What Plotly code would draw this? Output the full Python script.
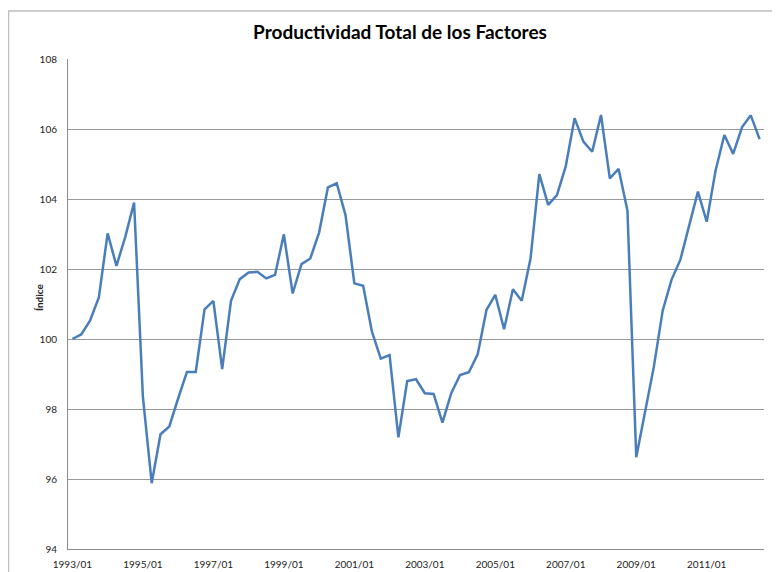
import plotly.graph_objects as go

# Productividad Total de los Factores, trimestral 1993/01 - 2012/03
YEARS = list(range(1993, 2013))
QUARTERS = ["01", "02", "03", "04"]
periods = [f"{y}/{q}" for y in YEARS for q in QUARTERS][:79]

ptf = [
    100.00, 100.13, 100.52, 101.19, 103.02, 102.09, 102.92, 103.90,   # 1993-1994
    98.35, 95.88, 97.28, 97.50, 98.30, 99.06, 99.06, 100.85,         # 1995-1996
    101.09, 99.14, 101.09, 101.71, 101.90, 101.92, 101.73, 101.83,   # 1997-1998
    102.99, 101.30, 102.14, 102.30, 103.04, 104.33, 104.45, 103.54,  # 1999-2000
    101.59, 101.52, 100.21, 99.44, 99.54, 97.19, 98.80, 98.85,       # 2001-2002
    98.45, 98.43, 97.61, 98.45, 98.97, 99.05, 99.56, 100.83,         # 2003-2004
    101.26, 100.28, 101.42, 101.09, 102.30, 104.71, 103.83, 104.11,  # 2005-2006
    104.94, 106.31, 105.64, 105.35, 106.40, 104.59, 104.86, 103.67,  # 2007-2008
    96.62, 97.92, 99.21, 100.81, 101.69, 102.26, 103.21, 104.21,     # 2009-2010
    103.35, 104.81, 105.83, 105.29, 106.05, 106.39, 105.71,          # 2011-2012
]

tick_labels = [f"{y}/01" for y in range(1993, 2012, 2)]

# page body has an 8px margin, so work in figure pixels (page - 8)
FW, FH = 772, 564
L, R, T, B = 60, 756, 51, 541
W, H = R - L, B - T

def px(x):
    return (x - L) / W

def py(y):
    return (B - y) / H

fig = go.Figure()
fig.add_trace(go.Scatter(
    x=periods, y=ptf, mode="lines",
    line=dict(color="#4A7EBB", width=2.5),
    hoverinfo="x+y",
))

# chart frame (Excel style border)
fig.add_shape(type="rect", xref="paper", yref="paper",
              x0=px(0.5), y0=py(620), x1=px(820), y1=py(3),
              line=dict(color="#BFBFBF", width=1.5), layer="below")

fig.add_annotation(text="<b>Índice</b>", xref="paper", yref="paper",
                   x=px(23), y=py(290), showarrow=False, textangle=-90,
                   font=dict(size=10, color="#222"))

fig.update_layout(
    width=FW, height=FH,
    margin=dict(l=L, r=FW - R, t=T, b=FH - B),
    paper_bgcolor="white", plot_bgcolor="white",
    showlegend=False,
    font=dict(family="Lato, 'Open Sans', sans-serif", color="#222"),
    title=dict(text="<b>Productividad Total de los Factores</b>",
               x=392 / FW, xanchor="center", y=1 - 24 / FH, yanchor="middle",
               font=dict(size=19, color="#000")),
    xaxis=dict(
        type="category", range=[-0.5, 78.5], automargin=False,
        tickmode="array", tickvals=tick_labels, ticktext=tick_labels,
        showgrid=False, showline=True, linecolor="#8C8C8C", linewidth=1,
        ticks="outside", ticklen=6, tickcolor="rgba(0,0,0,0)",
        tickfont=dict(size=10, color="#222"), tickangle=0,
    ),
    yaxis=dict(
        range=[94, 108], dtick=2, tick0=94, automargin=False,
        showgrid=True, gridcolor="#9A9A9A", gridwidth=1,
        showline=True, linecolor="#8C8C8C", linewidth=1,
        ticks="outside", ticklen=8, tickcolor="rgba(0,0,0,0)",
        tickfont=dict(size=10, color="#222"), zeroline=False,
    ),
)

fig.write_html("out.html")
